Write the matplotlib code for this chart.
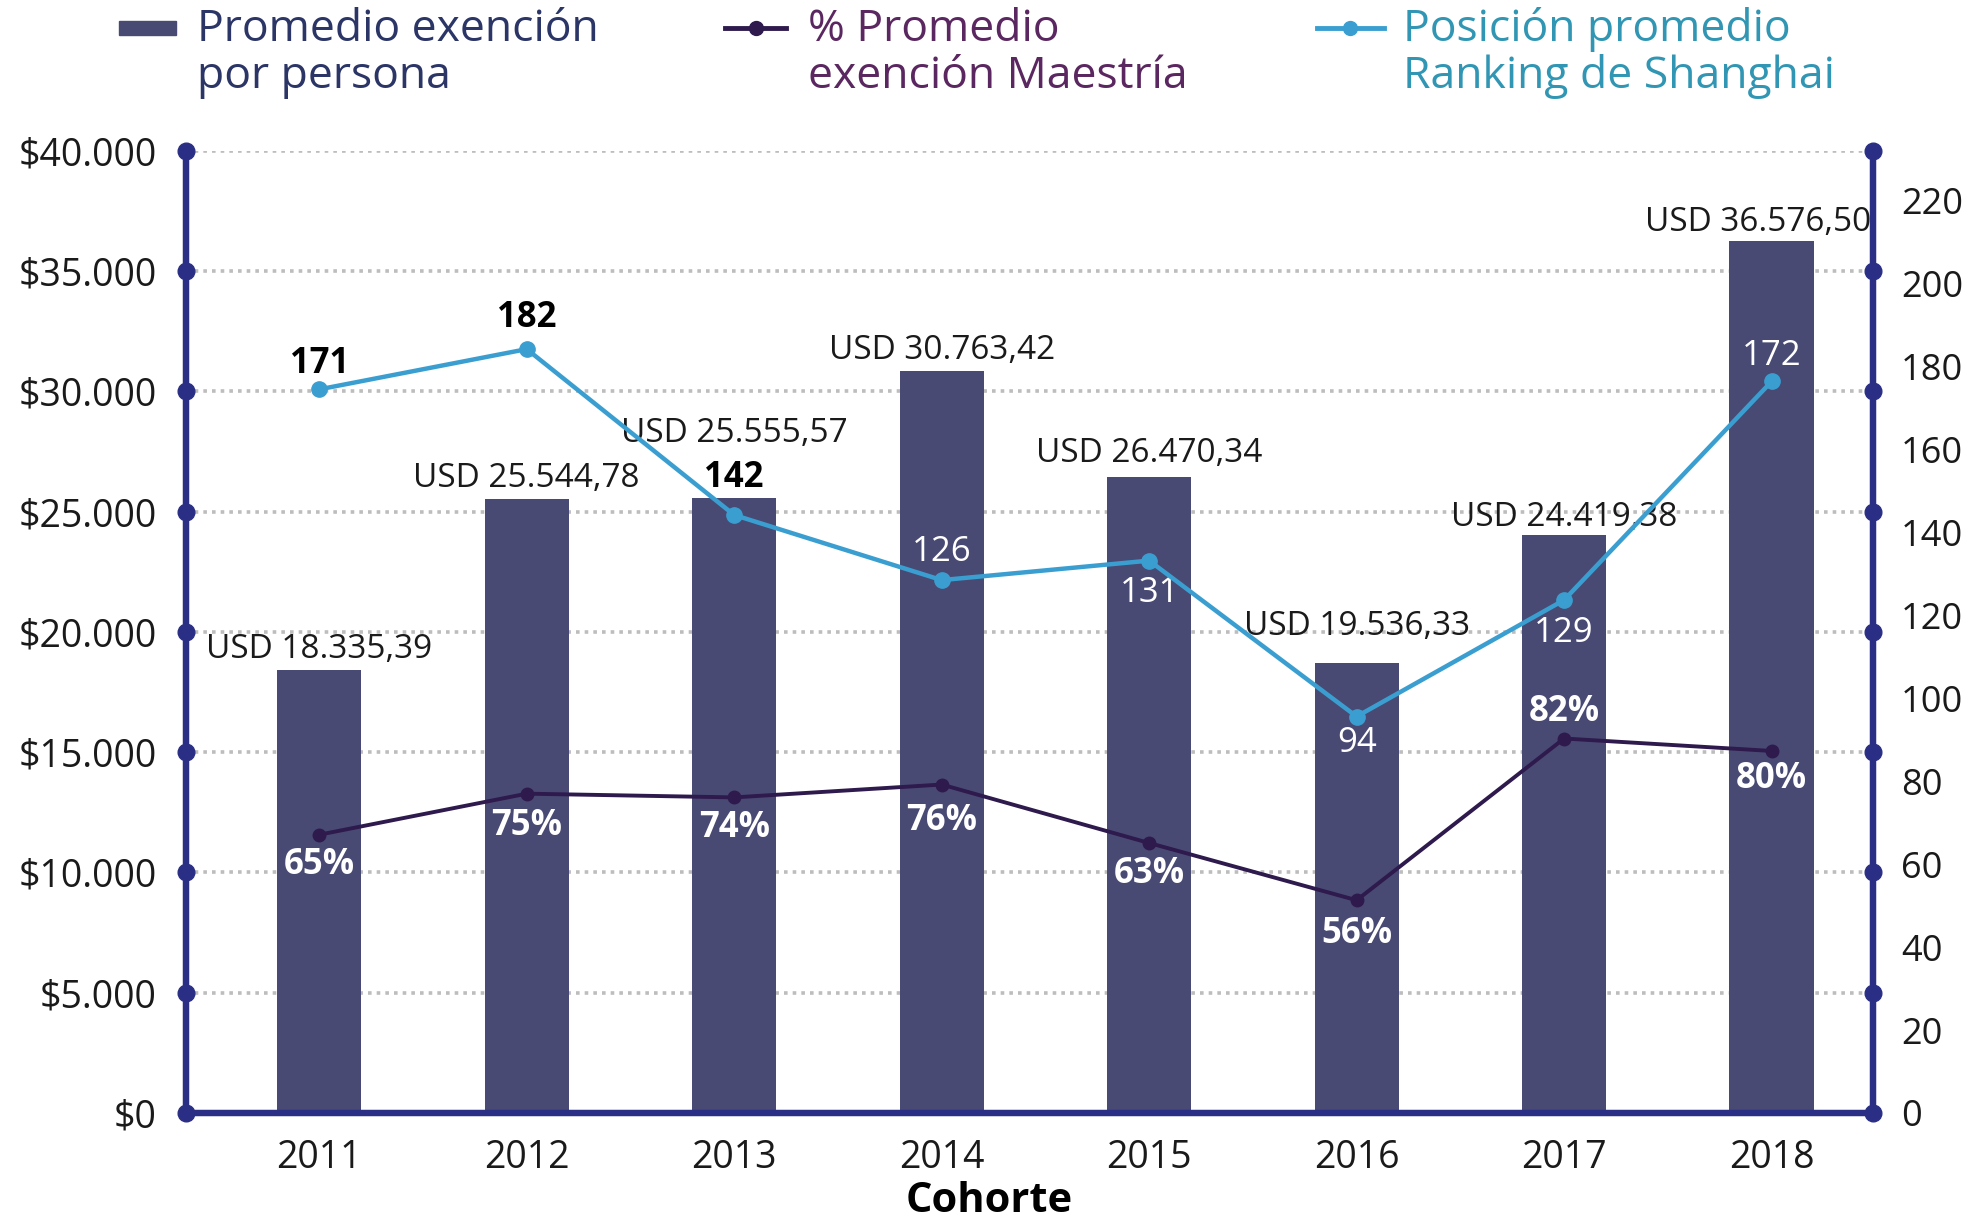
import numpy as np
import matplotlib.pyplot as plt
from matplotlib.lines import Line2D
from matplotlib.patches import Rectangle

plt.rcParams['font.family'] = ['Open Sans', 'DejaVu Sans']

# Datos (alturas, etiquetas tal cual aparecen)
cohortes = ['2011', '2012', '2013', '2014', '2015', '2016', '2017', '2018']
exencion_usd = [18430, 25540, 25550, 30860, 26430, 18720, 24050, 36240]
etiquetas_usd = ['USD 18.335,39', 'USD 25.544,78', 'USD 25.555,57', 'USD 30.763,42',
                 'USD 26.470,34', 'USD 19.536,33', 'USD 24.419,38', 'USD 36.576,50']
ranking = [174.5, 184.2, 144.2, 128.5, 133.2, 95.6, 123.7, 176.4]
etiquetas_ranking = ['171', '182', '142', '126', '131', '94', '129', '172']
porcentaje = [67.1, 77.0, 76.1, 79.2, 65.1, 51.3, 90.3, 87.3]
etiquetas_pct = ['65%', '75%', '74%', '76%', '63%', '56%', '82%', '80%']

ticks_izq = [0, 5000, 10000, 15000, 20000, 25000, 30000, 35000, 40000]
labels_izq = ['$0', '$5.000', '$10.000', '$15.000', '$20.000', '$25.000',
              '$30.000', '$35.000', '$40.000']
ticks_der = [0, 20, 40, 60, 80, 100, 120, 140, 160, 180, 200, 220]

# colores
c_barra = '#484a74'
c_eje = '#2a2f85'
c_rank = '#3a9fd0'
c_pct = '#2e1a4d'
c_txt = '#1a1a1a'

# desplazamientos de las etiquetas (pt)
off_usd = [14.5, 14.5, 47, 14.5, 17, 26, 12, 13.6]
offx_usd = [0, 0, 0, 0, 0, 0, 0, -10]
off_rank = [18, 22.6, 27, 20, -23.5, -19, -23.5, 18]
off_pct = [-21.7, -23.5, -21.7, -26, -22.6, -24.4, 19, -20]

fig = plt.figure(figsize=(19.71, 12.26), dpi=100)
ax = fig.add_axes([0.0944, 0.0922, 0.856, 0.7847])
x = np.arange(len(cohortes))
xl = (-0.642, 7.49)

ax.bar(x, exencion_usd, width=0.406, color=c_barra, zorder=2)
ax.set_xlim(*xl)
ax.set_ylim(0, 40000)
ax.set_yticks(ticks_izq)
ax.set_yticklabels(labels_izq)
ax.set_xticks(x)
ax.set_xticklabels(cohortes)
ax.tick_params(axis='y', length=0, pad=21, labelsize=27, labelcolor=c_txt)
ax.tick_params(axis='x', length=0, pad=19, labelsize=27, labelcolor=c_txt)
ax.grid(axis='y', color='#bdbdbd', linestyle=(0, (1, 1.4)), linewidth=2.6)
ax.set_axisbelow(True)

# titulo del eje x
fig.text(0.502, 0.003, 'Cohorte', fontsize=30, fontweight='bold', color='black',
         ha='center', va='bottom')

for i in range(len(x)):
    ax.annotate(etiquetas_usd[i], (x[i], exencion_usd[i]),
                xytext=(offx_usd[i], off_usd[i]), textcoords='offset points',
                ha='center', va='center', fontsize=24, color=c_txt, zorder=5)

ax2 = ax.twinx()
ax2.set_ylim(0, 232)
ax2.set_yticks(ticks_der)
ax2.tick_params(axis='y', length=0, pad=20, labelsize=26, labelcolor=c_txt)

ax2.plot(x, porcentaje, color=c_pct, lw=2.8, marker='o', ms=9, zorder=3)
ax2.plot(x, ranking, color=c_rank, lw=3.2, marker='o', ms=11, zorder=4)

for i in range(len(x)):
    if i < 3:
        ax2.annotate(etiquetas_ranking[i], (x[i], ranking[i]), xytext=(0, off_rank[i]),
                     textcoords='offset points', ha='center', va='center',
                     fontsize=25, fontweight='bold', color='black')
    else:
        ax2.annotate(etiquetas_ranking[i], (x[i], ranking[i]), xytext=(0, off_rank[i]),
                     textcoords='offset points', ha='center', va='center',
                     fontsize=25, color='white')
    ax2.annotate(etiquetas_pct[i], (x[i], porcentaje[i]), xytext=(0, off_pct[i]),
                 textcoords='offset points', ha='center', va='center',
                 fontsize=25, fontweight='bold', color='white')

# ejes
for a in (ax, ax2):
    a.spines['top'].set_visible(False)
    for s in ('left', 'right', 'bottom'):
        a.spines[s].set_color(c_eje)
        a.spines[s].set_linewidth(4.5)

# puntitos sobre los ejes
ax.plot([xl[0]] * len(ticks_izq), ticks_izq, 'o', color=c_eje, ms=12, clip_on=False, zorder=6)
ax2.plot([xl[1]] * len(ticks_izq), np.array(ticks_izq) / 40000 * 232, 'o', color=c_eje,
         ms=12, clip_on=False, zorder=6)

# leyenda a mano
fig.add_artist(Rectangle((0.0605, 0.9715), 0.029, 0.0114, color=c_barra,
                         transform=fig.transFigure))
fig.text(0.100, 0.9565, 'Promedio exención\npor persona', fontsize=32,
         color='#2b3566', va='center', ha='left', linespacing=1.05)
fig.add_artist(Line2D([0.368, 0.399], [0.977, 0.977], color=c_pct, lw=3.5,
                      transform=fig.transFigure))
fig.add_artist(Line2D([0.3835], [0.977], color=c_pct, marker='o', ms=10,
                      transform=fig.transFigure))
fig.text(0.410, 0.9565, '% Promedio\nexención Maestría', fontsize=32,
         color='#5b2760', va='center', ha='left', linespacing=1.05)
fig.add_artist(Line2D([0.668, 0.702], [0.977, 0.977], color=c_rank, lw=3.5,
                      transform=fig.transFigure))
fig.add_artist(Line2D([0.685], [0.977], color=c_rank, marker='o', ms=10,
                      transform=fig.transFigure))
fig.text(0.712, 0.9565, 'Posición promedio\nRanking de Shanghai', fontsize=32,
         color='#3196b3', va='center', ha='left', linespacing=1.05)

fig.savefig('out.png', dpi=100)
